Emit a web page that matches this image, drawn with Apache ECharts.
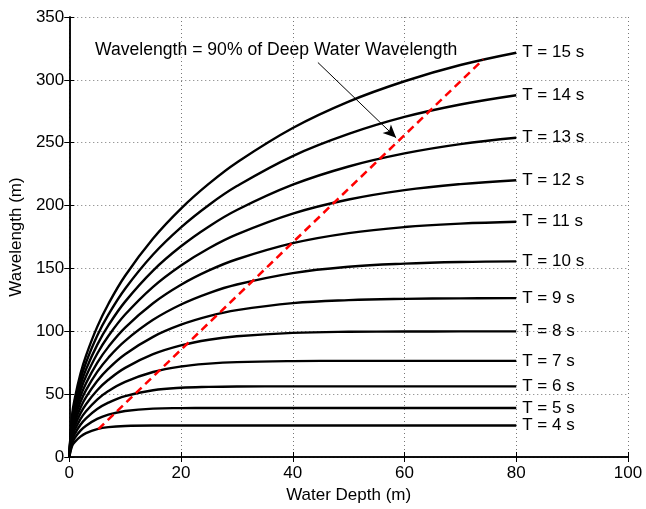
<!DOCTYPE html>
<html>
<head>
<meta charset="utf-8">
<title>Wavelength vs Water Depth</title>
<script src="https://cdn.jsdelivr.net/npm/echarts@6/dist/echarts.min.js"></script>
<style>
  html, body { margin: 0; padding: 0; background: #fff; }
  #chart { width: 646px; height: 509px; }
</style>
</head>
<body>
<div id="chart"></div>
<script>
  // water depth (m), shared by all period curves
  const depth = [0, 0.5, 1, 2, 3, 5, 7, 10, 15, 20, 25, 30, 40, 50, 60, 70, 80]

  // wavelength (m) for each wave period
  const waveT4 = [0, 8.7, 12.0, 16.2, 19.0, 22.2, 23.8, 24.7, 25.0, 25.0, 25.0, 25.0, 25.0, 25.0, 25.0, 25.0, 25.0]
  const waveT5 = [0, 10.9, 15.2, 21.0, 24.9, 30.3, 33.7, 36.6, 38.5, 38.9, 39.0, 39.0, 39.0, 39.0, 39.0, 39.0, 39.0]
  const waveT6 = [0, 13.2, 18.4, 25.6, 30.7, 38.1, 43.2, 48.4, 53.1, 55.1, 55.8, 56.1, 56.2, 56.2, 56.2, 56.2, 56.2]
  const waveT7 = [0, 15.4, 21.6, 30.2, 36.4, 45.7, 52.5, 59.8, 67.6, 72.0, 74.3, 75.5, 76.3, 76.5, 76.5, 76.5, 76.5]
  const waveT8 = [0, 17.6, 24.8, 34.7, 42.0, 53.1, 61.4, 70.9, 81.8, 88.8, 93.3, 96.0, 98.7, 99.6, 99.8, 99.9, 99.9]
  const waveT9 = [0, 19.9, 28.0, 39.2, 47.6, 60.4, 70.3, 81.8, 95.6, 105.2, 112.0, 116.8, 122.4, 124.8, 125.8, 126.2, 126.4]
  const waveT10 = [0, 22.1, 31.1, 43.7, 53.2, 67.7, 79.0, 92.4, 109.1, 121.3, 130.4, 137.2, 146.3, 151.3, 153.8, 155.1, 155.6]
  const waveT11 = [0, 24.3, 34.3, 48.2, 58.7, 74.9, 87.6, 102.9, 122.3, 137.0, 148.4, 157.3, 170.1, 178.1, 182.9, 185.6, 187.1]
  const waveT12 = [0, 26.5, 37.4, 52.7, 64.2, 82.1, 96.2, 113.3, 135.4, 152.4, 166.1, 177.1, 193.6, 204.8, 212.3, 217.1, 220.2]
  const waveT13 = [0, 28.7, 40.6, 57.1, 69.7, 89.2, 104.7, 123.6, 148.3, 167.6, 183.4, 196.5, 216.6, 231.1, 241.5, 248.9, 253.9]
  const waveT14 = [0, 31.0, 43.7, 61.6, 75.2, 96.4, 113.2, 133.9, 161.1, 182.7, 200.5, 215.5, 239.4, 257.0, 270.5, 280.4, 287.8]
  const waveT15 = [0, 33.2, 46.8, 66.1, 80.7, 103.5, 121.7, 144.2, 173.8, 197.6, 217.4, 234.3, 261.7, 282.7, 298.9, 311.8, 321.6]

  const periods = [4, 5, 6, 7, 8, 9, 10, 11, 12, 13, 14, 15]
  const waves = [waveT4, waveT5, waveT6, waveT7, waveT8, waveT9, waveT10, waveT11, waveT12, waveT13, waveT14, waveT15]

  // 90% of deep water wavelength line (end points)
  const limitDepth = [5.2, 74.1]
  const limitWave = [22.2, 316.2]

  // annotation arrow, tail -> head, in data units
  const arrowTail = [44.5, 313.8]
  const arrowHead = [58.5, 253.9]
  const noteText = 'Wavelength = 90% of Deep Water Wavelength'

  const font = 'Liberation Sans, Arial, Helvetica, sans-serif'
  const chart = echarts.init(document.getElementById('chart'))

  const dotted = { type: [1, 3], color: '#777', width: 1 }
  const frameAxis = { // top / right copies for the closed box
    axisLine: { show: true, lineStyle: { color: '#000', width: 1.5 } },
    axisTick: { show: true, inside: true, length: 5, lineStyle: { color: '#000' } },
    axisLabel: { show: false },
    splitLine: { show: false }
  }

  const curveSeries = periods.map((T, i) => ({
    name: 'T = ' + T + ' s',
    type: 'line',
    data: depth.map((d, j) => [d, waves[i][j]]),
    showSymbol: false,
    smooth: 0.4,
    lineStyle: { color: '#000', width: 2.4 },
    endLabel: {
      show: true,
      formatter: 'T = ' + T + ' s',
      color: '#000',
      fontSize: 17,
      fontFamily: font,
      distance: 6
    },
    silent: true,
    z: 3
  }))

  chart.setOption({
    animation: false,
    textStyle: { fontFamily: font },
    grid: { left: 66, right: 18, top: 17, bottom: 48 },
    xAxis: [{
      type: 'value',
      min: 0,
      max: 100,
      interval: 20,
      name: 'Water Depth (m)',
      nameLocation: 'middle',
      nameGap: 30,
      nameTextStyle: { color: '#000', fontSize: 17 },
      axisLine: { show: true, onZero: false, lineStyle: { color: '#000', width: 1.5 } },
      axisTick: { show: true, inside: true, length: 5, lineStyle: { color: '#000' } },
      axisLabel: { color: '#000', fontSize: 17, margin: 8 },
      splitLine: { show: true, lineStyle: dotted }
    }, Object.assign({ type: 'value', position: 'top', min: 0, max: 100, interval: 20 }, frameAxis)],
    yAxis: [{
      type: 'value',
      min: 0,
      max: 350,
      interval: 50,
      name: 'Wavelength (m)',
      nameLocation: 'middle',
      nameGap: 38,
      nameTextStyle: { color: '#000', fontSize: 17 },
      axisLine: { show: true, onZero: false, lineStyle: { color: '#000', width: 1.5 } },
      axisTick: { show: true, inside: true, length: 5, lineStyle: { color: '#000' } },
      axisLabel: { color: '#000', fontSize: 17, margin: 5 },
      splitLine: { show: true, lineStyle: dotted }
    }, Object.assign({ type: 'value', position: 'right', min: 0, max: 350, interval: 50 }, frameAxis)],
    series: curveSeries.concat([{
      name: '90% limit',
      type: 'line',
      data: limitDepth.map((d, j) => [d, limitWave[j]]),
      showSymbol: false,
      lineStyle: { color: '#ff0000', width: 2.5, type: [8, 5] },
      silent: true,
      z: 4,
      markLine: {
        silent: true,
        symbol: ['none', 'arrow'],
        symbolSize: [9, 13],
        label: { show: false },
        lineStyle: { color: '#000', width: 1, type: 'solid' },
        data: [[{ coord: arrowTail }, { coord: arrowHead }]]
      }
    }]),
    graphic: [{
      type: 'text',
      left: 95,
      top: 41,
      style: { text: noteText, fill: '#000', font: '17.6px ' + font }
    }]
  })
</script>
</body>
</html>
